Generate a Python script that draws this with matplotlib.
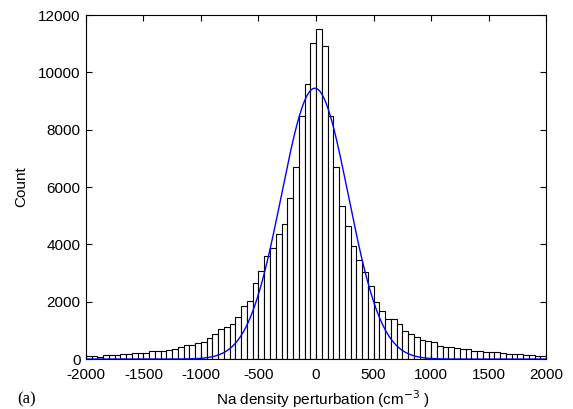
import numpy as np
import matplotlib
matplotlib.use("Agg")
import matplotlib.pyplot as plt

plt.rcParams['font.family'] = ['Liberation Sans', 'DejaVu Sans']
plt.rcParams['axes.unicode_minus'] = False

# Histogram bin edges (width 50, -2000..2000) and counts
bin_edges = np.arange(-2000, 2001, 50)
counts = [116, 105, 80, 128, 128, 128, 162, 162, 220, 220,
          220, 267, 267, 267, 325, 360, 406, 476, 476, 545,
          610, 748, 893, 1038, 1130, 1241, 1455, 1850, 2040, 2657,
          3074, 3608, 3863, 4373, 4722, 5615, 6694, 8480, 9582, 11032,
          11508, 10916, 8469, 6694, 5348, 4629, 3933, 3445, 3028, 2564,
          1984, 1694, 1392, 1415, 1218, 974, 882, 754, 673, 626,
          580, 441, 429, 429, 371, 336, 336, 278, 278, 255,
          232, 232, 197, 186, 186, 162, 128, 128, 105, 105]

# Fitted normal curve parameters
fit_mean = -10.0
fit_sigma = 290.0
fit_peak = 9450.0

x_ticks = [-2000, -1500, -1000, -500, 0, 500, 1000, 1500, 2000]
y_ticks = [0, 2000, 4000, 6000, 8000, 10000, 12000]

fig = plt.figure(figsize=(5.73, 4.09), dpi=100)
ax = fig.add_axes([0.150, 0.122, 0.803, 0.841])

widths = np.diff(bin_edges)
ax.bar(bin_edges[:-1], counts, width=widths, align='edge',
       facecolor='white', edgecolor='black', linewidth=0.8)

xs = np.linspace(-2000, 2000, 801)
ax.plot(xs, fit_peak * np.exp(-(xs - fit_mean) ** 2 / (2 * fit_sigma ** 2)),
        color='#0000ff', linewidth=1.0)

ax.set_xlim(-2000, 2000)
ax.set_ylim(0, 12000)
ax.set_xticks(x_ticks)
ax.set_yticks(y_ticks)
ax.tick_params(direction='in', top=True, right=True, length=4, width=0.8,
               labelsize=11)
ax.tick_params(axis='x', pad=6.2)
ax.tick_params(axis='y', pad=4)
for s in ax.spines.values():
    s.set_linewidth(0.8)

ax.set_xlabel('Na density perturbation (cm$^{-3}$ )', fontsize=11)
ax.xaxis.label.set_va('baseline')
ax.xaxis.set_label_coords(0.515, -0.132)
ax.set_ylabel('Count', fontsize=11)
ax.yaxis.label.set_va('center')
ax.yaxis.set_label_coords(-0.141, 0.5)
fig.text(0.030, 0.013, '(a)', fontsize=12, family='Liberation Serif',
         va='baseline', ha='left')

fig.savefig('out.png', dpi=100)
